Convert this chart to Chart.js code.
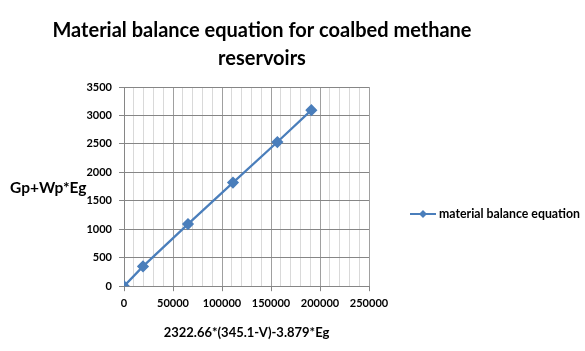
<!DOCTYPE html>
<html>
<head>
<meta charset="utf-8">
<script src="https://cdn.jsdelivr.net/npm/chart.js@4.4.1/dist/chart.umd.min.js"></script>
<style>
  html, body { margin: 0; padding: 0; background: #fff; }
  #wrap { width: 585px; height: 351px; }
</style>
</head>
<body>
<div id="wrap"><canvas id="myChart" width="585" height="351"></canvas></div>
<script>
// values
const xValues = [0, 19400, 65300, 111200, 156500, 191200];
const yValues = [0, 348, 1091, 1821, 2533, 3093];
const seriesName = 'material balance equation';
const titleLines = ['Material balance equation for coalbed methane', 'reservoirs'];
const xTitle = '2322.66*(345.1-V)-3.879*Eg';
const yTitle = 'Gp+Wp*Eg';
const xTickLabels = ['0', '50000', '100000', '150000', '200000', '250000'];
const yTickLabels = ['0', '500', '1000', '1500', '2000', '2500', '3000', '3500'];

const FONT = 'Lato, "Open Sans", sans-serif';
const lineColor = '#4a7ebb';

// title is centred over the whole chart (not the padded box), the y title is
// horizontal and the legend has a line + diamond, so draw these here
const extraText = {
  id: 'extraText',
  afterDraw(chart) {
    const ctx = chart.ctx;
    const area = chart.chartArea;
    ctx.save();
    ctx.fillStyle = '#000';

    ctx.font = 'bold 20px ' + FONT;
    ctx.textAlign = 'center';
    ctx.textBaseline = 'alphabetic';
    ctx.fillText(titleLines[0], 262, 37);
    ctx.fillText(titleLines[1], 262, 65);

    ctx.font = 'bold 15.5px ' + FONT;
    ctx.textBaseline = 'middle';
    ctx.textAlign = 'left';
    ctx.fillText(yTitle, 10, (area.top + area.bottom) / 2 + 1);

    // legend
    const ly = 214;
    ctx.strokeStyle = lineColor;
    ctx.lineWidth = 2;
    ctx.beginPath();
    ctx.moveTo(410, ly);
    ctx.lineTo(436, ly);
    ctx.stroke();
    ctx.fillStyle = lineColor;
    ctx.beginPath();
    ctx.moveTo(423, ly - 4);
    ctx.lineTo(427, ly);
    ctx.lineTo(423, ly + 4);
    ctx.lineTo(419, ly);
    ctx.closePath();
    ctx.fill();
    ctx.fillStyle = '#000';
    ctx.font = 'bold 12.3px ' + FONT;
    ctx.fillText(seriesName, 439, ly);
    ctx.restore();
  }
};

const ctx = document.getElementById('myChart').getContext('2d');
new Chart(ctx, {
  type: 'line',
  data: {
    datasets: [{
      label: seriesName,
      data: xValues.map((x, i) => ({ x: x, y: yValues[i] })),
      borderColor: lineColor,
      backgroundColor: lineColor,
      borderWidth: 2.25,
      pointStyle: 'rectRot',
      pointRadius: 4.5,
      pointHoverRadius: 4.5,
      tension: 0
    }]
  },
  options: {
    responsive: false,
    animation: false,
    layout: { padding: { left: 0, right: 216, top: 87, bottom: 0 } },
    plugins: {
      legend: { display: false },
      tooltip: { enabled: false },
      title: { display: false }
    },
    scales: {
      x: {
        type: 'linear',
        min: 0,
        max: 250000,
        afterBuildTicks: (scale) => {
          const ticks = [];
          for (let v = 0; v <= 250000; v += 10000) ticks.push({ value: v });
          scale.ticks = ticks;
        },
        ticks: {
          autoSkip: false,
          maxRotation: 0,
          color: '#000',
          font: { family: FONT, size: 11, weight: 'bold' },
          padding: 6,
          callback: (v) => (v % 50000 === 0 ? xTickLabels[v / 50000] : '')
        },
        grid: {
          color: (c) => (c.tick && c.tick.value % 50000 === 0 ? '#a0a0a0' : '#d9d9d9'),
          tickColor: (c) => (c.tick && c.tick.value % 50000 === 0 ? '#868686' : 'rgba(0,0,0,0)'),
          tickLength: 5,
          lineWidth: 1
        },
        border: { color: '#868686', width: 1 },
        title: {
          display: true,
          text: xTitle,
          color: '#000',
          font: { family: FONT, size: 13, weight: 'bold' },
          padding: { top: 9, bottom: 10 }
        }
      },
      y: {
        min: 0,
        max: 3500,
        afterFit: (scale) => { scale.width = 124; },
        ticks: {
          stepSize: 500,
          color: '#000',
          font: { family: FONT, size: 11, weight: 'bold' },
          padding: 7,
          callback: (v) => yTickLabels[v / 500]
        },
        grid: {
          color: '#868686',
          tickColor: '#868686',
          tickLength: 5,
          lineWidth: 1
        },
        border: { color: '#868686', width: 1 }
      }
    }
  },
  plugins: [extraText]
});
</script>
</body>
</html>
